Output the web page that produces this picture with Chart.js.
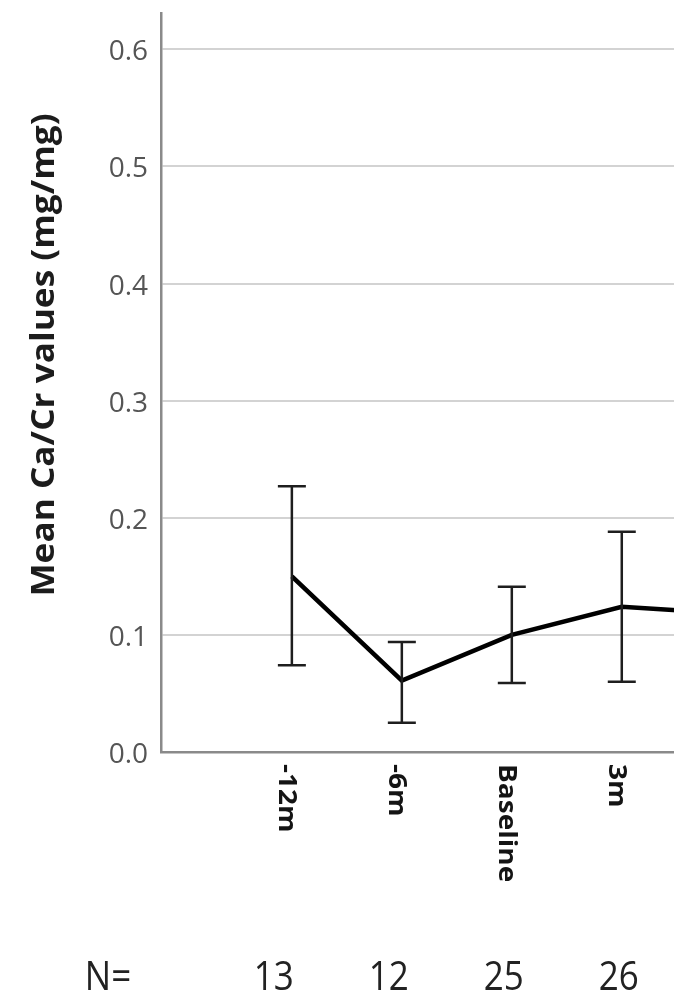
<!DOCTYPE html>
<html>
<head>
<meta charset="utf-8">
<script src="https://cdn.jsdelivr.net/npm/chart.js@4"></script>
<style>
  html, body { margin: 0; padding: 0; background: #ffffff; overflow: hidden; }
  #wrap { position: absolute; left: 0; top: 0; width: 900px; height: 1005px; }
</style>
</head>
<body>
<div id="wrap"><canvas id="c" width="900" height="1005"></canvas></div>
<script>
// ---- data ----
const categories = ["-12m", "-6m", "Baseline", "3m", "6m"];
const meanValues = [0.150, 0.061, 0.100, 0.124, 0.118];
const upperValues = [0.227, 0.094, 0.141, 0.188, 0.180];
const lowerValues = [0.074, 0.025, 0.059, 0.060, 0.062];
const nCounts = ["13", "12", "25", "26", ""];
const nLabel = "N=";
const yTicks = [0.0, 0.1, 0.2, 0.3, 0.4, 0.5, 0.6];
const yTitle = "Mean Ca/Cr values (mg/mg)";

Chart.defaults.font.family = "'Open Sans', sans-serif";

const errorBars = {
  id: 'errorBars',
  afterDatasetsDraw(chart) {
    const ctx = chart.ctx, xs = chart.scales.x, ys = chart.scales.y, a = chart.chartArea;
    ctx.save();
    ctx.beginPath();
    ctx.rect(a.left, a.top - 5, a.right - a.left, a.bottom - a.top + 10);
    ctx.clip();
    ctx.strokeStyle = '#1e1e1e';
    ctx.lineWidth = 2.5;
    categories.forEach((c, i) => {
      const x = xs.getPixelForValue(i);
      const yu = ys.getPixelForValue(upperValues[i]);
      const yl = ys.getPixelForValue(lowerValues[i]);
      const cap = 14;
      ctx.beginPath();
      ctx.moveTo(x, yu); ctx.lineTo(x, yl);
      ctx.moveTo(x - cap, yu); ctx.lineTo(x + cap, yu);
      ctx.moveTo(x - cap, yl); ctx.lineTo(x + cap, yl);
      ctx.stroke();
    });
    ctx.restore();
  }
};

const textLayer = {
  id: 'textLayer',
  afterDraw(chart) {
    const ctx = chart.ctx, xs = chart.scales.x, ys = chart.scales.y, a = chart.chartArea;
    ctx.save();
    // y-axis title (reads bottom to top)
    ctx.save();
    ctx.translate(45, 355);
    ctx.rotate(-Math.PI / 2);
    ctx.scale(1.1, 1);
    ctx.font = "bold 32px 'Open Sans', sans-serif";
    ctx.fillStyle = '#1c1c1c';
    ctx.textAlign = 'center';
    ctx.textBaseline = 'middle';
    ctx.fillText(yTitle, 0, 0);
    ctx.restore();

    // category labels, rotated clockwise (read top to bottom)
    categories.forEach((c, i) => {
      const x = xs.getPixelForValue(i) - 6;
      ctx.save();
      ctx.translate(x, a.bottom + 12);
      ctx.rotate(Math.PI / 2);
      ctx.scale(1.12, 1);
      ctx.font = "bold 25px 'Open Sans', sans-serif";
      ctx.fillStyle = '#141414';
      ctx.textAlign = 'left';
      ctx.textBaseline = 'middle';
      ctx.fillText(c, 0, 0);
      ctx.restore();
    });

    // N row
    ctx.font = "35px 'Open Sans', sans-serif";
    ctx.fillStyle = '#222222';
    ctx.textAlign = 'center';
    ctx.textBaseline = 'middle';
    const rowY = 979;
    ctx.save();
    ctx.translate(0, rowY);
    ctx.scale(1, 1.15);
    ctx.fillText(nLabel, 108, 0);
    nCounts.forEach((n, i) => {
      const x = xs.getPixelForValue(0) - 18 + i * 115;
      ctx.fillText(n, x, 0);
    });
    ctx.restore();
    ctx.restore();
  }
};

const chart = new Chart(document.getElementById('c'), {
  type: 'line',
  data: {
    datasets: [{
      data: categories.map((c, i) => ({ x: i, y: meanValues[i] })),
      borderColor: '#000000',
      borderWidth: 4.6,
      pointRadius: 0,
      tension: 0,
      fill: false
    }]
  },
  options: {
    responsive: false,
    animation: false,
    devicePixelRatio: 1,
    layout: { padding: { top: 13, left: 0, right: 0, bottom: 253 } },
    plugins: { legend: { display: false }, tooltip: { enabled: false } },
    scales: {
      x: {
        type: 'linear',
        min: -1.19,
        max: 5.53,
        grid: { display: false, drawTicks: false },
        border: { display: true, color: '#8a8a8a', width: 2.5 },
        ticks: { display: false },
        afterFit(s) { s.height = 0; s.paddingLeft = 0; s.paddingRight = 0; }
      },
      y: {
        min: 0,
        max: 0.631,
        afterBuildTicks(s) { s.ticks = yTicks.map(v => ({ value: v })); },
        afterFit(s) { s.width = 161; s.paddingTop = 0; s.paddingBottom = 0; },
        grid: { color: '#d3d3d3', lineWidth: 2, drawTicks: false },
        border: { display: true, color: '#8a8a8a', width: 2.5 },
        ticks: {
          padding: 13,
          labelOffset: 3,
          color: '#555555',
          font: { size: 28 },
          callback: v => Number(v).toFixed(1)
        }
      }
    }
  },
  plugins: [errorBars, textLayer]
});
</script>
</body>
</html>
